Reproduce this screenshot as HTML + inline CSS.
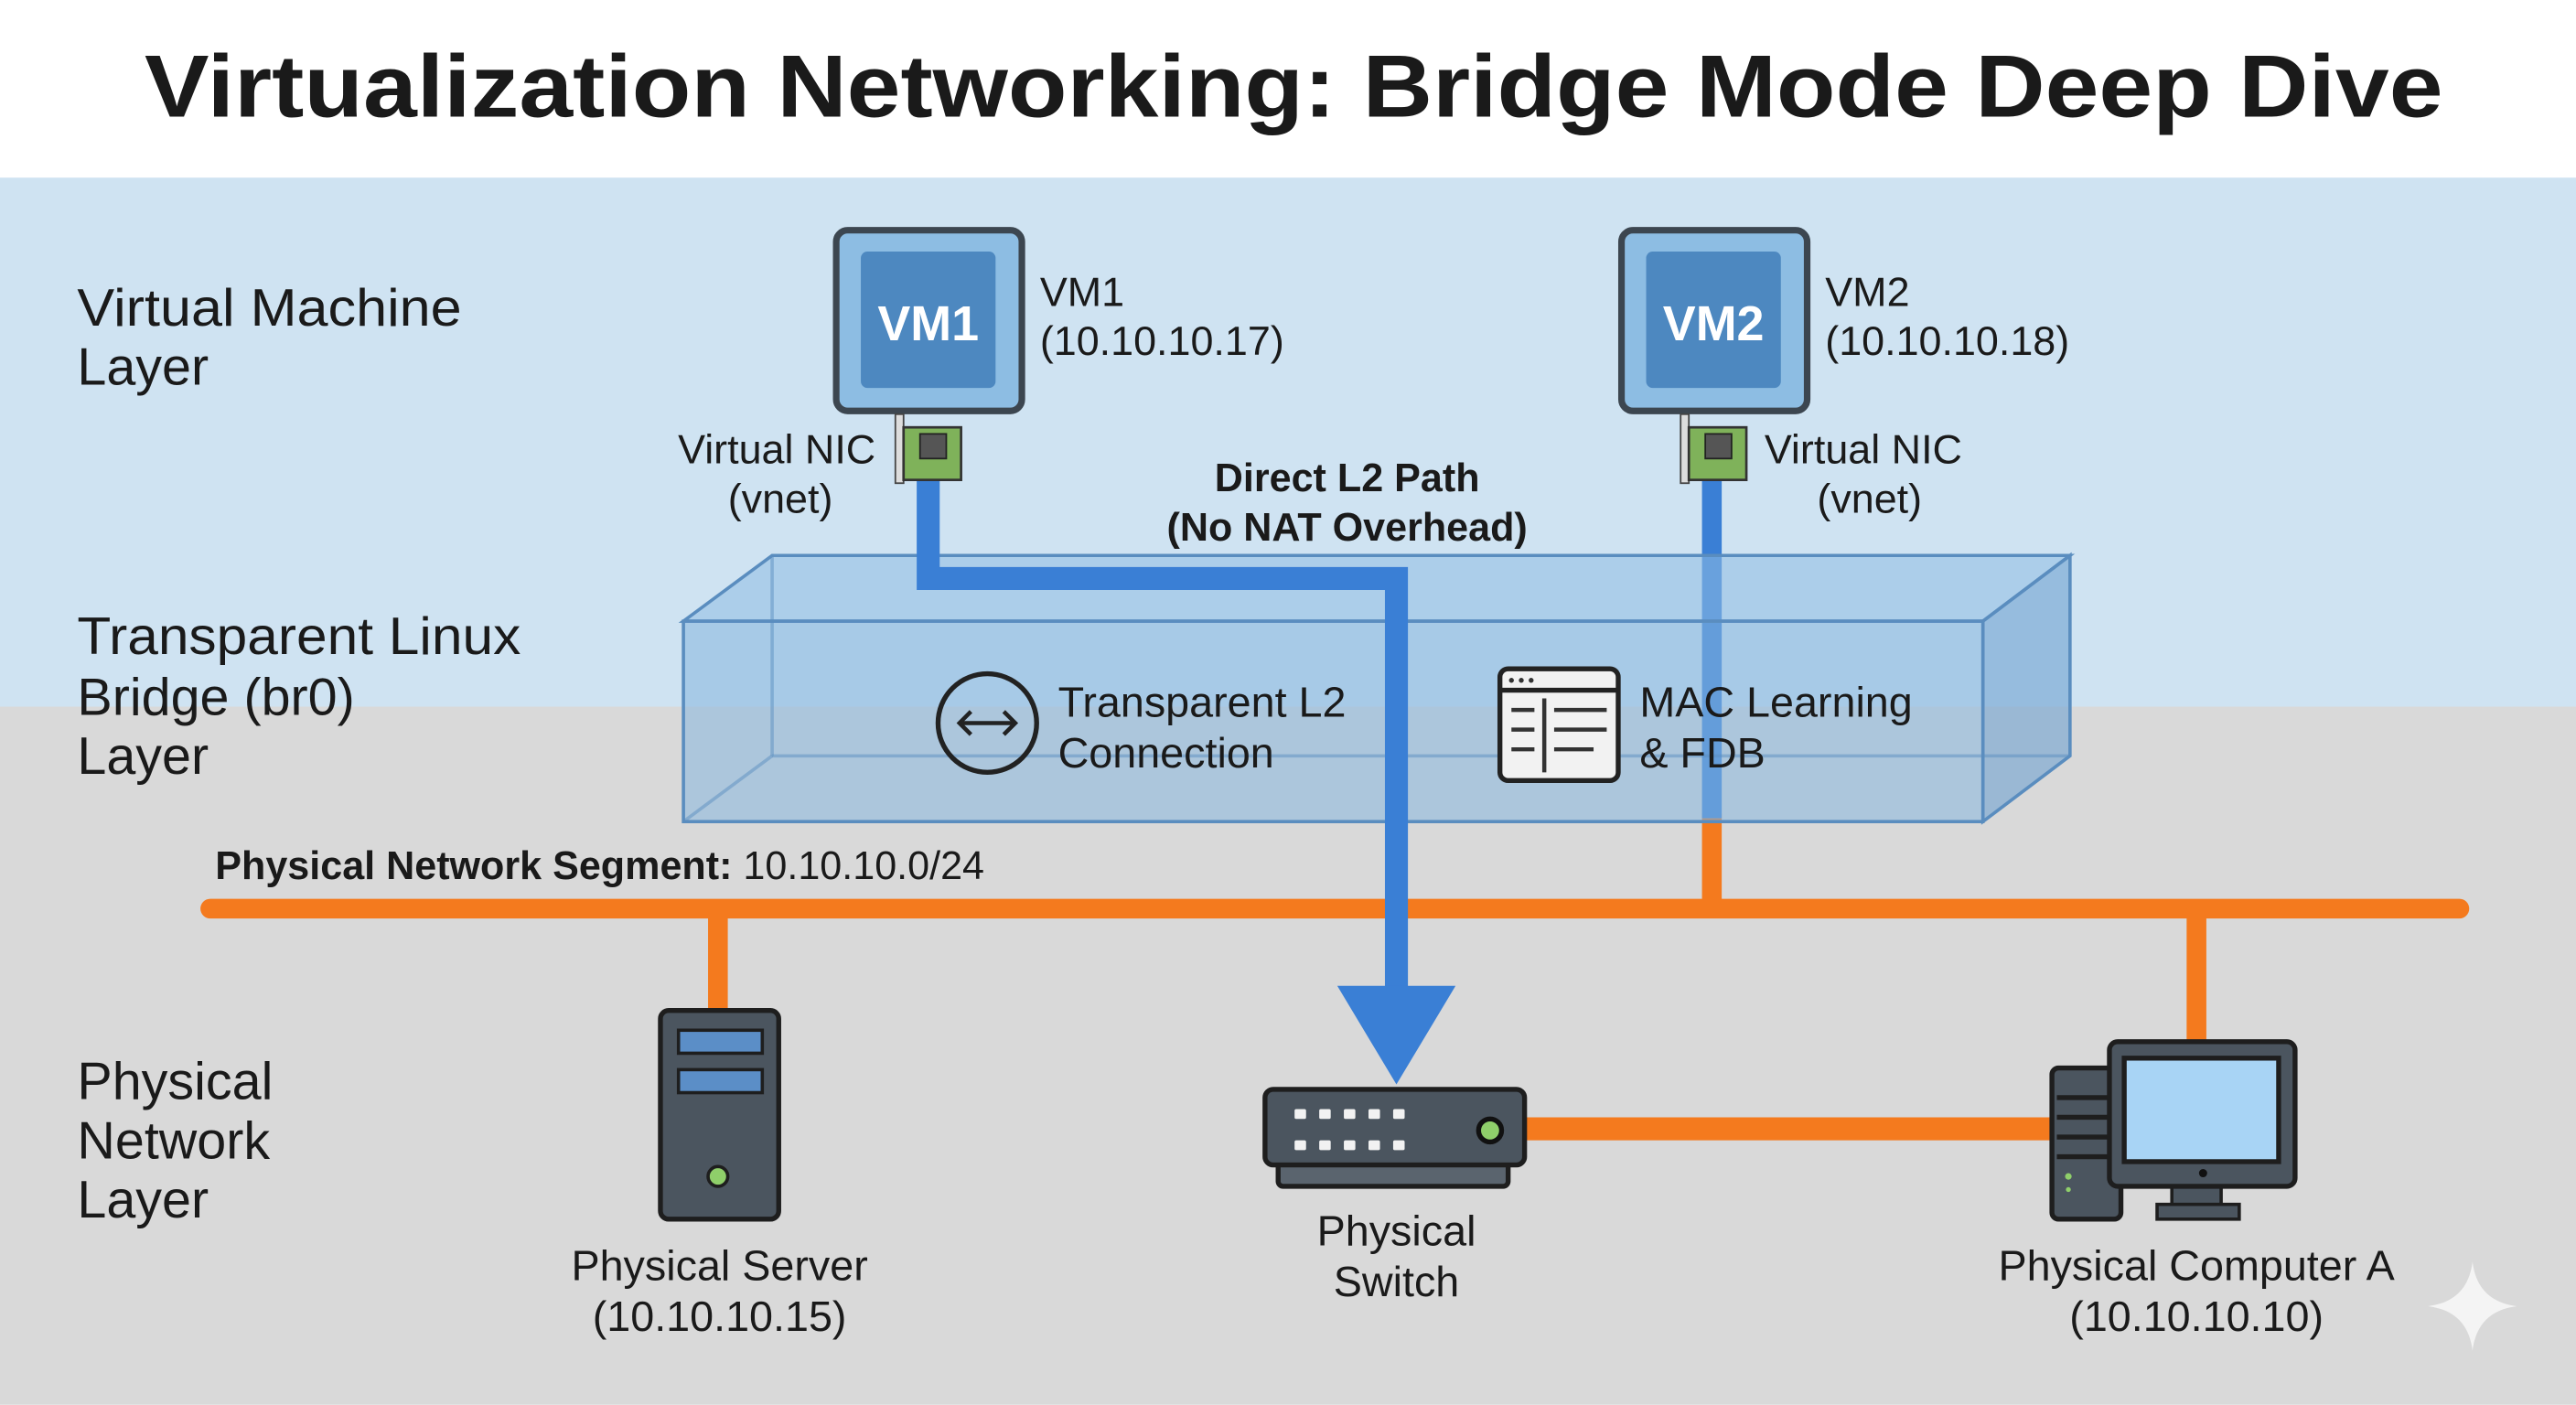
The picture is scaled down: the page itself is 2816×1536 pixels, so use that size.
<!DOCTYPE html>
<html><head><meta charset="utf-8"><style>
html,body{margin:0;padding:0;width:2816px;height:1536px;overflow:hidden;background:#fff}
svg{display:block}
text{font-family:"Liberation Sans","DejaVu Sans",sans-serif;fill:#1a1a1a}
</style></head><body>
<svg width="2816" height="1536" viewBox="0 0 1568 855" xmlns="http://www.w3.org/2000/svg">
<rect x="0" y="0" width="1568" height="108" fill="#ffffff"/>
<rect x="0" y="108" width="1568" height="322" fill="#cfe3f2"/>
<rect x="0" y="430" width="1568" height="425" fill="#d9d9d9"/>
<text x="88" y="71" font-size="54" font-weight="bold" fill="#111" textLength="1399" lengthAdjust="spacingAndGlyphs">Virtualization Networking: Bridge Mode Deep Dive</text>

<g font-size="32">
<text x="47" y="198" textLength="234" lengthAdjust="spacingAndGlyphs">Virtual Machine</text><text x="47" y="234">Layer</text>
<text x="47" y="398" textLength="270" lengthAdjust="spacingAndGlyphs">Transparent Linux</text><text x="47" y="435">Bridge (br0)</text><text x="47" y="471">Layer</text>
<text x="47" y="669">Physical</text><text x="47" y="705">Network</text><text x="47" y="741">Layer</text>
</g>

<!-- Orange bus and drops -->
<g stroke="#f47a1e" stroke-width="12" stroke-linecap="round" fill="none">
<line x1="128" y1="553" x2="1497" y2="553"/>
<line x1="437" y1="553" x2="437" y2="615" stroke-linecap="butt"/>
<line x1="1337" y1="553" x2="1337" y2="640" stroke-linecap="butt"/>
<line x1="1042" y1="495" x2="1042" y2="553" stroke-linecap="butt"/>
<line x1="925" y1="687" x2="1252" y2="687" stroke-width="14" stroke-linecap="butt"/>
</g>
<text x="131" y="535" font-size="24"><tspan font-weight="bold">Physical Network Segment:</tspan> 10.10.10.0/24</text>

<line x1="1042" y1="292" x2="1042" y2="498" stroke="#3a7fd5" stroke-width="12"/>

<!-- Bridge box -->
<g stroke="#5a8dbf" stroke-width="2">
<polygon points="416,378 470,338 1260,338 1207,378" fill="#8fbde3" fill-opacity="0.55"/>
<polygon points="1207,378 1260,338 1260,460 1207,500" fill="#6fa2d0" fill-opacity="0.6"/>
<rect x="416" y="378" width="791" height="122" fill="#86b6df" fill-opacity="0.55"/>
<line x1="470" y1="338" x2="470" y2="460" stroke-opacity="0.5"/>
<line x1="470" y1="460" x2="1260" y2="460" stroke-opacity="0.5"/>
<line x1="416" y1="500" x2="470" y2="460" stroke-opacity="0.5"/>
</g>
<polyline points="565,292 565,352 850,352 850,602" fill="none" stroke="#3a7fd5" stroke-width="14"/>
<polygon points="814,600 886,600 850,660" fill="#3a7fd5"/>

<!-- Bridge icons -->
<circle cx="601" cy="440" r="30" fill="none" stroke="#222" stroke-width="3"/>
<g stroke="#222" stroke-width="2.5" fill="none"><line x1="584" y1="440" x2="618" y2="440"/><polyline points="591,433 584,440 591,447"/><polyline points="611,433 618,440 611,447"/></g>
<text x="644" y="436" font-size="26">Transparent L2</text><text x="644" y="467" font-size="26">Connection</text>
<rect x="913" y="407" width="72" height="68" rx="5" fill="#f2f2f2" stroke="#222" stroke-width="3"/>
<line x1="913" y1="420" x2="985" y2="420" stroke="#222" stroke-width="3"/>
<g stroke="#333" stroke-width="2.5"><line x1="920" y1="432" x2="934" y2="432"/><line x1="920" y1="444" x2="934" y2="444"/><line x1="920" y1="456" x2="934" y2="456"/><line x1="940" y1="425" x2="940" y2="470"/><line x1="946" y1="432" x2="978" y2="432"/><line x1="946" y1="444" x2="978" y2="444"/><line x1="946" y1="456" x2="970" y2="456"/></g>
<g fill="#333"><circle cx="920" cy="414" r="1.5"/><circle cx="926" cy="414" r="1.5"/><circle cx="932" cy="414" r="1.5"/></g>
<text x="998" y="436" font-size="26">MAC Learning</text><text x="998" y="467" font-size="26">&amp; FDB</text>

<text x="820" y="299" font-size="24" font-weight="bold" text-anchor="middle">Direct L2 Path</text>
<text x="820" y="329" font-size="24" font-weight="bold" text-anchor="middle">(No NAT Overhead)</text>

<!-- VM1 -->
<rect x="509" y="140" width="113" height="110" rx="7" fill="#8dbde3" stroke="#3c4650" stroke-width="4"/>
<rect x="524" y="153" width="82" height="83" rx="4" fill="#4d88c0"/>
<text x="565" y="207" font-size="30" font-weight="bold" text-anchor="middle" style="fill:#fff">VM1</text>
<text x="633" y="186" font-size="25">VM1</text><text x="633" y="216" font-size="25">(10.10.10.17)</text>
<rect x="545" y="252" width="5" height="42" fill="#ddd" stroke="#444" stroke-width="1"/>
<rect x="550" y="260" width="35" height="32" fill="#7fb25a" stroke="#333" stroke-width="1.5"/>
<rect x="560" y="264" width="16" height="15" fill="#555" stroke="#222"/>
<text x="533" y="282" font-size="25" text-anchor="end">Virtual NIC</text><text x="475" y="312" font-size="25" text-anchor="middle">(vnet)</text>

<!-- VM2 -->
<rect x="987" y="140" width="113" height="110" rx="7" fill="#8dbde3" stroke="#3c4650" stroke-width="4"/>
<rect x="1002" y="153" width="82" height="83" rx="4" fill="#4d88c0"/>
<text x="1043" y="207" font-size="30" font-weight="bold" text-anchor="middle" style="fill:#fff">VM2</text>
<text x="1111" y="186" font-size="25">VM2</text><text x="1111" y="216" font-size="25">(10.10.10.18)</text>
<rect x="1023" y="252" width="5" height="42" fill="#ddd" stroke="#444" stroke-width="1"/>
<rect x="1028" y="260" width="35" height="32" fill="#7fb25a" stroke="#333" stroke-width="1.5"/>
<rect x="1038" y="264" width="16" height="15" fill="#555" stroke="#222"/>
<text x="1074" y="282" font-size="25">Virtual NIC</text><text x="1138" y="312" font-size="25" text-anchor="middle">(vnet)</text>

<!-- Server -->
<rect x="402" y="615" width="72" height="127" rx="5" fill="#4b555f" stroke="#1e1e1e" stroke-width="3"/>
<rect x="413" y="627" width="51" height="14" fill="#5b8ec7" stroke="#1e1e1e" stroke-width="2"/>
<rect x="413" y="651" width="51" height="14" fill="#5b8ec7" stroke="#1e1e1e" stroke-width="2"/>
<circle cx="437" cy="716" r="6" fill="#8fcf6a" stroke="#1e1e1e" stroke-width="2"/>
<text x="438" y="779" font-size="26" text-anchor="middle">Physical Server</text>
<text x="438" y="810" font-size="26" text-anchor="middle">(10.10.10.15)</text>

<!-- Switch -->
<rect x="778" y="705" width="140" height="17" rx="3" fill="#5a646e" stroke="#1e1e1e" stroke-width="3"/>
<rect x="770" y="663" width="158" height="46" rx="5" fill="#4b555f" stroke="#1e1e1e" stroke-width="3"/>
<g fill="#f2f2f2"><rect x="788" y="675" width="7" height="6" rx="1"/><rect x="803" y="675" width="7" height="6" rx="1"/><rect x="818" y="675" width="7" height="6" rx="1"/><rect x="833" y="675" width="7" height="6" rx="1"/><rect x="848" y="675" width="7" height="6" rx="1"/>
<rect x="788" y="694" width="7" height="6" rx="1"/><rect x="803" y="694" width="7" height="6" rx="1"/><rect x="818" y="694" width="7" height="6" rx="1"/><rect x="833" y="694" width="7" height="6" rx="1"/><rect x="848" y="694" width="7" height="6" rx="1"/></g>
<circle cx="907" cy="688" r="7" fill="#8fcf6a" stroke="#111" stroke-width="3"/>
<text x="850" y="758" font-size="26" text-anchor="middle">Physical</text>
<text x="850" y="789" font-size="26" text-anchor="middle">Switch</text>

<!-- Computer -->
<rect x="1249" y="650" width="42" height="92" rx="4" fill="#4b555f" stroke="#1e1e1e" stroke-width="3"/>
<g stroke="#1e1e1e" stroke-width="3"><line x1="1252" y1="668" x2="1285" y2="668"/><line x1="1252" y1="680" x2="1285" y2="680"/><line x1="1252" y1="692" x2="1285" y2="692"/><line x1="1252" y1="704" x2="1285" y2="704"/></g>
<circle cx="1259" cy="716" r="2" fill="#8fcf6a"/><circle cx="1259" cy="724" r="1.5" fill="#8fcf6a"/>
<rect x="1322" y="720" width="30" height="16" fill="#4b555f" stroke="#1e1e1e" stroke-width="2"/>
<rect x="1313" y="733" width="50" height="9" fill="#4b555f" stroke="#1e1e1e" stroke-width="2"/>
<rect x="1284" y="634" width="113" height="88" rx="5" fill="#4b555f" stroke="#1e1e1e" stroke-width="3"/>
<rect x="1293" y="644" width="94" height="63" fill="#a8d4f5" stroke="#1e1e1e" stroke-width="3"/>
<circle cx="1341" cy="714" r="2.5" fill="#111"/>
<text x="1337" y="779" font-size="26" text-anchor="middle">Physical Computer A</text>
<text x="1337" y="810" font-size="26" text-anchor="middle">(10.10.10.10)</text>

<!-- sparkle -->
<path d="M1505,768 Q1508,792 1532,795 Q1508,798 1505,822 Q1502,798 1478,795 Q1502,792 1505,768Z" fill="#f4f4f4"/>
</svg>
</body></html>
